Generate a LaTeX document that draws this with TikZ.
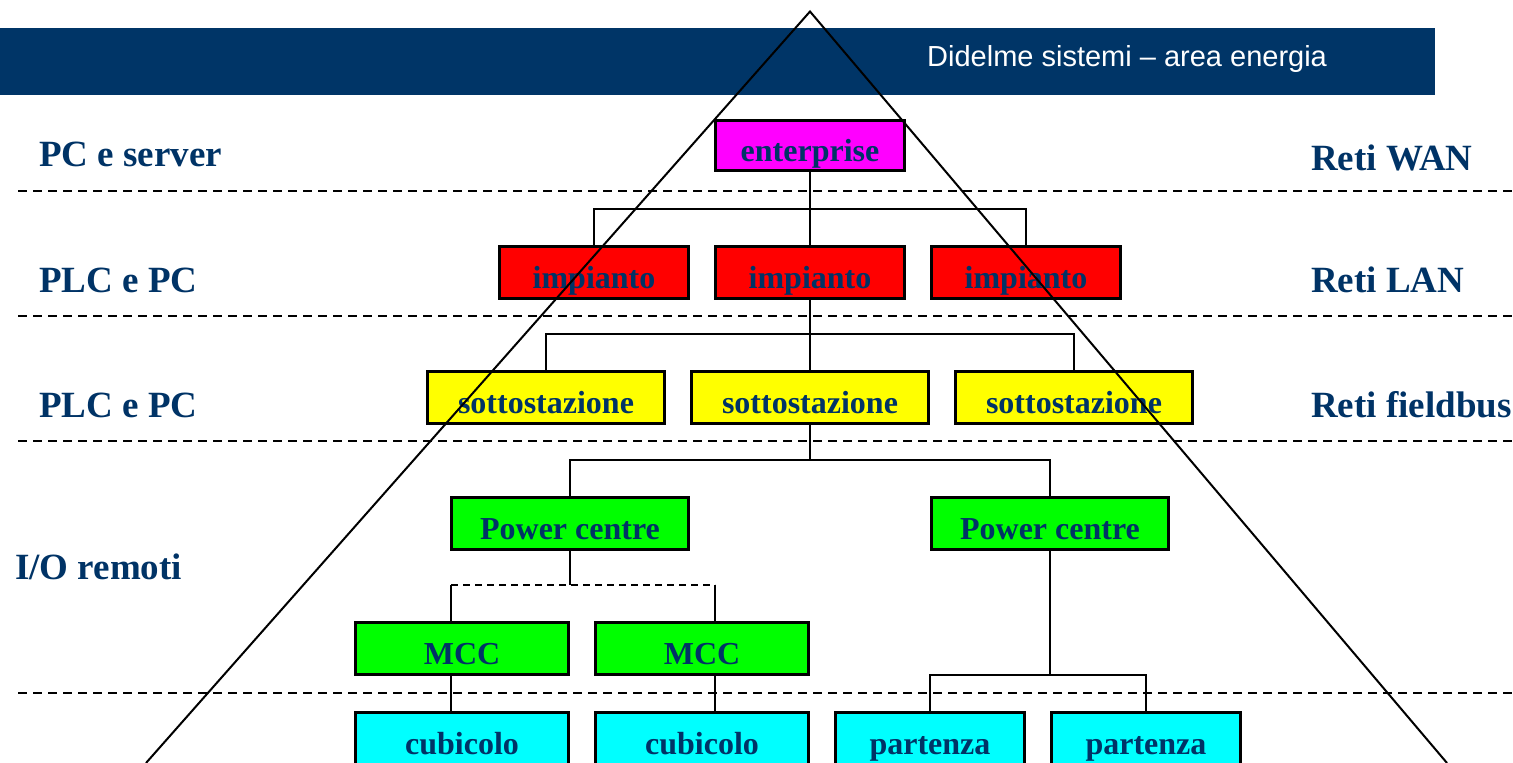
\documentclass[tikz,border=0pt]{standalone}
\usepackage{fontspec}
\setmainfont{Liberation Serif}
\newfontfamily\hdrfont{Liberation Sans}
\definecolor{navy}{HTML}{003366}
\definecolor{band}{HTML}{003567}
\definecolor{fmag}{HTML}{FF00FF}
\definecolor{fred}{HTML}{FF0000}
\definecolor{fyel}{HTML}{FFFF00}
\definecolor{fgrn}{HTML}{00FF00}
\definecolor{fcya}{HTML}{00FFFF}
\begin{document}
\begin{tikzpicture}[x=1pt,y=-1pt,
  box/.style={draw=black, line width=3pt, minimum width=#1, minimum height=52pt,
    inner sep=0pt, text height=32pt, text depth=0pt, text=navy,
    font=\fontsize{32}{38}\selectfont\bfseries},
  lbl/.style={anchor=base west, inner sep=0pt, text=navy, font=\fontsize{37}{44}\selectfont\bfseries},
  sep/.style={dash pattern=on 9pt off 6pt, line width=2.2pt},
  conn/.style={line width=1.6pt},
  tri/.style={line width=2pt}]
\useasboundingbox (0,0) rectangle (1513,763);
\clip (0,0) rectangle (1513,763);
% header band
\fill[band] (0,28) rectangle (1435,95);
\node[anchor=base west, inner sep=0pt, text=white, font=\hdrfont\fontsize{29}{34}\selectfont] (hdr) at (927,66) {Didelme sistemi \textendash{} area energia};
% level separators
\draw[sep] (18,191) -- (1513,191);
\draw[sep] (18,316) -- (1513,316);
\draw[sep] (18,441) -- (1513,441);
\draw[sep] (18,693) -- (1513,693);
% side labels
\node[lbl] (l1) at (39,166) {PC e server};
\node[lbl] (l2) at (39,292) {PLC e PC};
\node[lbl] (l3) at (39,417) {PLC e PC};
\node[lbl] (l4) at (15,579) {I/O remoti};
\node[lbl] (r1) at (1311,170) {Reti WAN};
\node[lbl] (r2) at (1311,292) {Reti LAN};
\node[lbl] (r3) at (1311,417) {Reti fieldbus};
% boxes
\node[box=189, minimum height=50pt, fill=fmag] (ent) at (810,145.5) {enterprise};
\node[box=189, fill=fred] (imp1) at (594,272) {impianto};
\node[box=189, fill=fred] (imp2) at (810,272) {impianto};
\node[box=189, fill=fred] (imp3) at (1026,272) {impianto};
\node[box=237, fill=fyel] (sot1) at (546,397.5) {sottostazione};
\node[box=237, fill=fyel] (sot2) at (810,397.5) {sottostazione};
\node[box=237, fill=fyel] (sot3) at (1074,397.5) {sottostazione};
\node[box=237, fill=fgrn] (pc1) at (570,523) {Power centre};
\node[box=237, fill=fgrn] (pc2) at (1050,523) {Power centre};
\node[box=213, fill=fgrn] (mcc1) at (462,648.5) {MCC};
\node[box=213, fill=fgrn] (mcc2) at (702,648.5) {MCC};
\node[box=213, fill=fcya] (cub1) at (462,738.5) {cubicolo};
\node[box=213, fill=fcya] (cub2) at (702,738.5) {cubicolo};
\node[box=189, fill=fcya] (par1) at (930,738.5) {partenza};
\node[box=189, fill=fcya] (par2) at (1146,738.5) {partenza};
% connectors
\coordinate (b1) at (810,209);
\draw[conn] (ent.south) -- (b1);
\draw[conn] (imp1.north) |- (b1) -| (imp3.north);
\draw[conn] (b1) -- (imp2.north);
\coordinate (b2) at (810,334);
\draw[conn] (imp2.south) -- (b2);
\draw[conn] (sot1.north) |- (b2) -| (sot3.north);
\draw[conn] (b2) -- (sot2.north);
\coordinate (b3) at (810,460);
\draw[conn] (sot2.south) -- (b3);
\draw[conn] (pc1.north) |- (b3) -| (pc2.north);
\coordinate (b4) at (570,585);
\coordinate (m1) at (451,585);
\coordinate (m2) at (715,585);
\draw[conn] (pc1.south) -- (b4);
\draw[conn, dash pattern=on 7pt off 5pt] (m1) -- (m2);
\draw[conn] (m1) -- (m1 |- mcc1.north);
\draw[conn] (m2) -- (m2 |- mcc2.north);
\draw[conn] (m1 |- mcc1.south) -- (m1 |- cub1.north);
\draw[conn] (m2 |- mcc2.south) -- (m2 |- cub2.north);
\coordinate (b5) at (1050,675);
\draw[conn] (pc2.south) -- (b5);
\draw[conn] (par1.north) |- (b5) -| (par2.north);
% pyramid
\coordinate (apex) at (810,11.5);
\coordinate (tl) at (146,763);
\coordinate (tr) at (1447,763);
\draw[tri] (tl) -- (apex) -- (tr);
\end{tikzpicture}
\end{document}
